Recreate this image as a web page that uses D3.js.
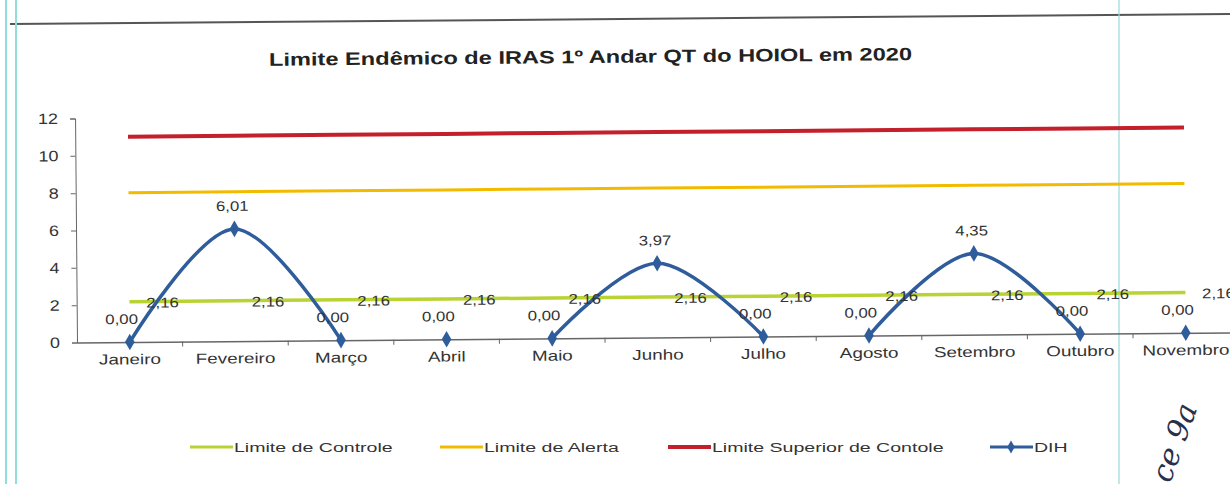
<!DOCTYPE html>
<html>
<head>
<meta charset="utf-8">
<script src="https://cdn.jsdelivr.net/npm/d3@7"></script>
<style>
  html, body { margin: 0; padding: 0; background: #fff; }
  svg { display: block; font-family: "Liberation Sans", Arial, sans-serif; }
</style>
</head>
<body>
<svg id="chart" width="1230" height="484"></svg>
<script>
// ---- data ----
const months = ['Janeiro', 'Fevereiro', 'Março', 'Abril', 'Maio', 'Junho', 'Julho',
                'Agosto', 'Setembro', 'Outubro', 'Novembro', 'Dezembro'];
const limiteControle = [2.16, 2.16, 2.16, 2.16, 2.16, 2.16, 2.16, 2.16, 2.16, 2.16, 2.16, null];
const limiteAlerta   = [8, 8, 8, 8, 8, 8, 8, 8, 8, 8, 8, null];
const limiteSuperior = [11, 11, 11, 11, 11, 11, 11, 11, 11, 11, 11, null];
const dih            = [0, 6.01, 0, 0, 0, 3.97, 0, 0, 4.35, 0, 0, null];
const yTicks = [0, 2, 4, 6, 8, 10, 12];

const title = 'Limite Endêmico de IRAS 1º Andar QT do HOIOL em 2020';
const legendItems = [
  { name: 'Limite de Controle', color: '#b9d334', w: 3, x: 190 },
  { name: 'Limite de Alerta', color: '#f2bb00', w: 3, x: 440 },
  { name: 'Limite Superior de Contole', color: '#c3202c', w: 4, x: 668 },
  { name: 'DIH', color: '#2f5d9c', w: 3, x: 990, marker: true }
];

const fmt = v => v.toFixed(2).replace('.', ',');
// the scan is stretched sideways, so text is widened a bit
const stretch = (sel, k) => sel.each(function () {
  const el = d3.select(this);
  el.attr('x', (+el.attr('x') || 0) / k).attr('transform', `scale(${k},1)`);
});

const svg = d3.select('#chart');

// ---- scanned page frame ----
const frame = svg.append('g');
frame.append('line').attr('x1', 10).attr('y1', 24).attr('x2', 1230).attr('y2', 14)
  .attr('stroke', '#555').attr('stroke-width', 2);
frame.append('line').attr('x1', 6).attr('y1', 0).attr('x2', 6).attr('y2', 484)
  .attr('stroke', '#8fdede').attr('stroke-width', 2);
frame.append('line').attr('x1', 16).attr('y1', 0).attr('x2', 16).attr('y2', 484)
  .attr('stroke', '#8fdede').attr('stroke-width', 2);
frame.append('line').attr('x1', 1119).attr('y1', 0).attr('x2', 1119).attr('y2', 484)
  .attr('stroke', '#9ad8d8').attr('stroke-width', 1.2);

// ---- chart (slightly tilted like the scan) ----
const g = svg.append('g').attr('transform', 'rotate(-0.5, 130, 342)');

const x = d3.scaleBand().domain(months).range([77, 77 + 12 * 105.6]);
const y = d3.scaleLinear().domain([0, 12]).range([342, 118]);
const cx = m => x(m) + x.bandwidth() / 2;

g.append('text')
  .attr('x', 593).attr('y', 67)
  .attr('text-anchor', 'middle')
  .attr('textLength', 643).attr('lengthAdjust', 'spacingAndGlyphs')
  .style('font-size', '18px').style('font-weight', 'bold').style('fill', '#222')
  .text(title);

// y axis
const yAxis = g.append('g').attr('transform', 'translate(77,0)')
  .call(d3.axisLeft(y).tickValues(yTicks).tickSize(5).tickPadding(12).tickFormat(d3.format('d')));
yAxis.select('.domain').attr('stroke', '#666');
yAxis.selectAll('.tick line').attr('stroke', '#666');
yAxis.selectAll('text').style('font-size', '15px').style('fill', '#333')
  .style('font-family', '"Liberation Sans", Arial, sans-serif')
  .call(stretch, 1.2);

// x axis
const xAxis = g.append('g').attr('transform', `translate(0,${y(0)})`)
  .call(d3.axisBottom(x).tickSize(0).tickPadding(12));
xAxis.select('.domain').attr('stroke', '#666').attr('stroke-width', 1.5);
xAxis.selectAll('text').style('font-size', '14.5px').style('fill', '#333')
  .style('font-family', '"Liberation Sans", Arial, sans-serif')
  .call(stretch, 1.3);
// ticks between categories
g.append('g').selectAll('line')
  .data(months.slice(1))
  .join('line')
  .attr('x1', d => x(d)).attr('x2', d => x(d))
  .attr('y1', y(0)).attr('y2', y(0) + 5)
  .attr('stroke', '#666');

// horizontal limit lines
const flatLine = d3.line()
  .defined(d => d.v != null)
  .x(d => cx(d.m)).y(d => y(d.v));
const series = [
  { vals: limiteSuperior, color: '#c3202c', w: 4 },
  { vals: limiteAlerta, color: '#f2bb00', w: 3 },
  { vals: limiteControle, color: '#b9d334', w: 3.5 }
];
series.forEach(s => {
  g.append('path')
    .datum(months.map((m, i) => ({ m, v: s.vals[i] })))
    .attr('d', flatLine)
    .attr('fill', 'none')
    .attr('stroke', s.color)
    .attr('stroke-width', s.w);
});

// DIH smooth line: only segments that rise above zero are visible
const pts = months.map((m, i) => ({ m, v: dih[i] })).filter(d => d.v != null);
const runs = [];
let cur = null;
for (let i = 0; i < pts.length - 1; i++) {
  if (Math.max(pts[i].v, pts[i + 1].v) > 0) {
    if (!cur) { cur = [pts[i]]; runs.push(cur); }
    cur.push(pts[i + 1]);
  } else cur = null;
}
const smooth = d3.line().x(d => cx(d.m)).y(d => y(d.v)).curve(d3.curveCatmullRom.alpha(0.5));
g.append('g').selectAll('path')
  .data(runs)
  .join('path')
  .attr('d', smooth)
  .attr('fill', 'none')
  .attr('stroke', '#2f5d9c')
  .attr('stroke-width', 3.5);

g.append('g').selectAll('path')
  .data(pts)
  .join('path')
  .attr('d', d3.symbol(d3.symbolDiamond, 80))
  .attr('transform', d => `translate(${cx(d.m)},${y(d.v)})`)
  .attr('fill', '#2f5d9c');

// data labels
const labelStyle = sel => sel.style('font-size', '14px').style('fill', '#333');
g.append('g').selectAll('text')
  .data(pts)
  .join('text')
  .attr('x', d => d.v > 0 ? cx(d.m) - 2 : cx(d.m) - 8)
  .attr('y', d => y(d.v) - 18)
  .attr('text-anchor', 'middle')
  .call(labelStyle)
  .text(d => fmt(d.v))
  .call(stretch, 1.2);

g.append('g').selectAll('text')
  .data(months.map((m, i) => ({ m, v: limiteControle[i] })).filter(d => d.v != null))
  .join('text')
  .attr('x', d => cx(d.m) + 33)
  .attr('y', d => y(d.v) + 6)
  .attr('text-anchor', 'middle')
  .call(labelStyle)
  .text(d => fmt(d.v))
  .call(stretch, 1.2);

// legend
const leg = svg.append('g').attr('transform', 'translate(0,447)');
const li = leg.selectAll('g').data(legendItems).join('g')
  .attr('transform', d => `translate(${d.x},0)`);
li.append('line').attr('x1', 0).attr('x2', 43).attr('y1', 0).attr('y2', 0)
  .attr('stroke', d => d.color).attr('stroke-width', d => d.w);
li.filter(d => d.marker).append('path')
  .attr('d', d3.symbol(d3.symbolDiamond, 50))
  .attr('transform', 'translate(21,0)')
  .attr('fill', d => d.color);
li.append('text').attr('x', 44).attr('y', 5)
  .style('font-size', '13.5px').style('fill', '#333')
  .text(d => d.name)
  .call(stretch, 1.45);

// handwritten note at the corner of the scan
svg.append('text')
  .attr('transform', 'translate(1170,484) rotate(-70)')
  .style('font-family', '"DejaVu Serif", serif').style('font-style', 'italic')
  .style('font-size', '30px').style('fill', '#2a2f4a')
  .text('ce 9a');
</script>
</body>
</html>
